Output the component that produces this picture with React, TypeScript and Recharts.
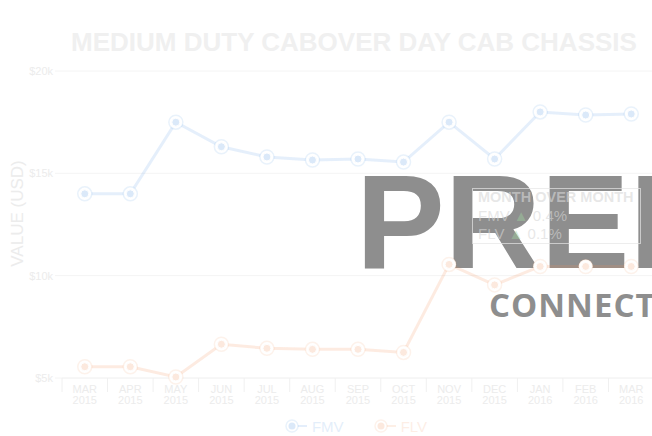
import React from 'react';
import {
  LineChart,
  Line,
  XAxis,
  YAxis,
  CartesianGrid,
  Legend,
} from 'recharts';

// --- data ---
const MONTHS = ['MAR', 'APR', 'MAY', 'JUN', 'JUL', 'AUG', 'SEP', 'OCT', 'NOV', 'DEC', 'JAN', 'FEB', 'MAR'];
const YEARS = ['2015', '2015', '2015', '2015', '2015', '2015', '2015', '2015', '2015', '2015', '2016', '2016', '2016'];
const FMV = [14000, 14000, 17500, 16300, 15800, 15650, 15700, 15550, 17500, 15700, 18000, 17850, 17900];
const FLV = [5550, 5550, 5050, 6650, 6450, 6400, 6400, 6250, 10550, 9550, 10450, 10450, 10450];
const Y_TICKS = [5000, 10000, 15000, 20000];

const TITLE = 'MEDIUM DUTY CABOVER DAY CAB CHASSIS';

const FMV_COLOR = '#4a90e2';
const FLV_COLOR = '#f2915a';
const TEXT = '#ececec';
const GRID = '#f4f4f4';
const FONT = '"Liberation Sans", Arial, sans-serif';

const data = MONTHS.map((m, i) => ({ idx: i, month: m, year: YEARS[i], fmv: FMV[i], flv: FLV[i] }));

// ticks on the categories (labels) and on the boundaries between them (separators)
const X_TICKS = [
  ...MONTHS.map((_, i) => i - 0.5),
  MONTHS.length - 0.5,
  ...MONTHS.map((_, i) => i),
].sort((a, b) => a - b);

const XTick = (props: any) => {
  const { x, y, payload } = props;
  const v = payload.value as number;
  if (!Number.isInteger(v)) {
    return <line x1={x} y1={y} x2={x} y2={y + 14} stroke="#f0f0f0" strokeWidth={1} />;
  }
  return (
    <g>
      <text x={x} y={y + 15} textAnchor="middle" fontSize={11} fill={TEXT} fontFamily={FONT}>
        {MONTHS[v]}
      </text>
      <text x={x} y={y + 26} textAnchor="middle" fontSize={11} fill={TEXT} fontFamily={FONT}>
        {YEARS[v]}
      </text>
    </g>
  );
};

const makeDot = (color: string) => (props: any) => {
  const { cx, cy, index } = props;
  if (cx == null || cy == null) return <g key={index} />;
  return (
    <g key={index}>
      <circle cx={cx} cy={cy} r={7} fill="#fff" stroke={color} strokeOpacity={0.12} strokeWidth={1.5} />
      <circle cx={cx} cy={cy} r={4} fill={color} fillOpacity={0.2} stroke="#fff" strokeWidth={1} />
    </g>
  );
};

const LegendContent = () => {
  const items = [
    { name: 'FMV', color: FMV_COLOR },
    { name: 'FLV', color: FLV_COLOR },
  ];
  return (
    <div style={{ display: 'flex', justifyContent: 'center', gap: 30, height: 20, alignItems: 'center', paddingLeft: 58 }}>
      {items.map((it) => (
        <div key={it.name} style={{ display: 'flex', alignItems: 'center' }}>
          <svg width={24} height={16}>
            <line x1={7} y1={8} x2={22} y2={8} stroke={it.color} strokeOpacity={0.15} strokeWidth={2} />
            <circle cx={7} cy={8} r={6} fill="#fff" stroke={it.color} strokeOpacity={0.12} strokeWidth={1.5} />
            <circle cx={7} cy={8} r={3.5} fill={it.color} fillOpacity={0.2} />
          </svg>
          <span style={{ fontFamily: FONT, fontSize: 15, color: it.color, opacity: 0.15, marginLeft: 3 }}>{it.name}</span>
        </div>
      ))}
    </div>
  );
};

const AxisTitle = (props: any) => {
  const { viewBox } = props;
  const x = viewBox.x + 17;
  const y = viewBox.y + viewBox.height / 2 - 11;
  return (
    <text
      x={x}
      y={y}
      transform={`rotate(-90 ${x} ${y})`}
      textAnchor="middle"
      dominantBaseline="central"
      fontSize={17}
      fill={TEXT}
      fontFamily={FONT}
    >
      VALUE (USD)
    </text>
  );
};

export default function App() {
  return (
    <div style={{ position: 'absolute', left: 0, top: 0, width: 652, height: 436, overflow: 'hidden', background: '#fff' }}>
      {/* watermark */}
      <svg width={652} height={436} style={{ position: 'absolute', left: 0, top: 0 }}>
        <text x={356} y={268} fontSize={133} fontWeight={700} fill="#8e8e8e" fontFamily={FONT}>
          PREMIUM
        </text>
        <text x={489} y={317} fontSize={33} fontWeight={700} fill="#8e8e8e" fontFamily='"Open Sans", sans-serif' letterSpacing={1}>
          CONNECT
        </text>
      </svg>

      <div style={{ position: 'absolute', left: 0, top: 0 }}>
        <LineChart width={660} height={436} data={data} margin={{ top: 71, right: 6, left: 0, bottom: 8 }}>
          <CartesianGrid stroke={GRID} vertical={false} />
          <XAxis
            dataKey="idx"
            type="number"
            domain={[-0.5, MONTHS.length - 0.5]}
            ticks={X_TICKS}
            interval={0}
            tick={<XTick />}
            tickLine={false}
            tickSize={0}
            tickMargin={0}
            axisLine={{ stroke: GRID }}
            height={30}
          />
          <YAxis
            type="number"
            domain={[5000, 20000]}
            ticks={Y_TICKS}
            width={62}
            tickSize={7}
            tickLine={{ stroke: GRID }}
            axisLine={false}
            tick={{ fill: TEXT, fontSize: 11, fontFamily: FONT }}
            tickFormatter={(v: number) => `$${v / 1000}k`}
            label={<AxisTitle />}
          />
          <Legend verticalAlign="bottom" content={<LegendContent />} wrapperStyle={{ bottom: 0 }} />
          <Line
            dataKey="fmv"
            name="FMV"
            type="linear"
            stroke={FMV_COLOR}
            strokeOpacity={0.14}
            strokeWidth={3}
            dot={makeDot(FMV_COLOR)}
            activeDot={false}
            isAnimationActive={false}
          />
          <Line
            dataKey="flv"
            name="FLV"
            type="linear"
            stroke={FLV_COLOR}
            strokeOpacity={0.18}
            strokeWidth={3}
            dot={makeDot(FLV_COLOR)}
            activeDot={false}
            isAnimationActive={false}
          />
        </LineChart>
      </div>

      {/* title and month-over-month box */}
      <svg width={652} height={436} style={{ position: 'absolute', left: 0, top: 0, pointerEvents: 'none' }}>
        <text x={354} y={51} textAnchor="middle" fontSize={26} fontWeight={700} fill="#f0f0f0" fontFamily={FONT}>
          {TITLE}
        </text>
        <rect x={472.5} y={188.5} width={168} height={55} fill="none" stroke="#e6e6e6" strokeOpacity={0.7} />
        <g fontFamily={FONT} fill="rgba(215,215,215,0.6)">
          <text x={478} y={202} fontSize={14.5} fontWeight={700}>MONTH OVER MONTH</text>
          <text x={478} y={220.5} fontSize={15}>
            FMV <tspan fill="rgba(160,210,160,0.45)">▲</tspan> 0.4%
          </text>
          <text x={478} y={238.5} fontSize={15}>
            FLV <tspan fill="rgba(160,210,160,0.45)">▲</tspan> 0.1%
          </text>
        </g>
      </svg>
    </div>
  );
}
